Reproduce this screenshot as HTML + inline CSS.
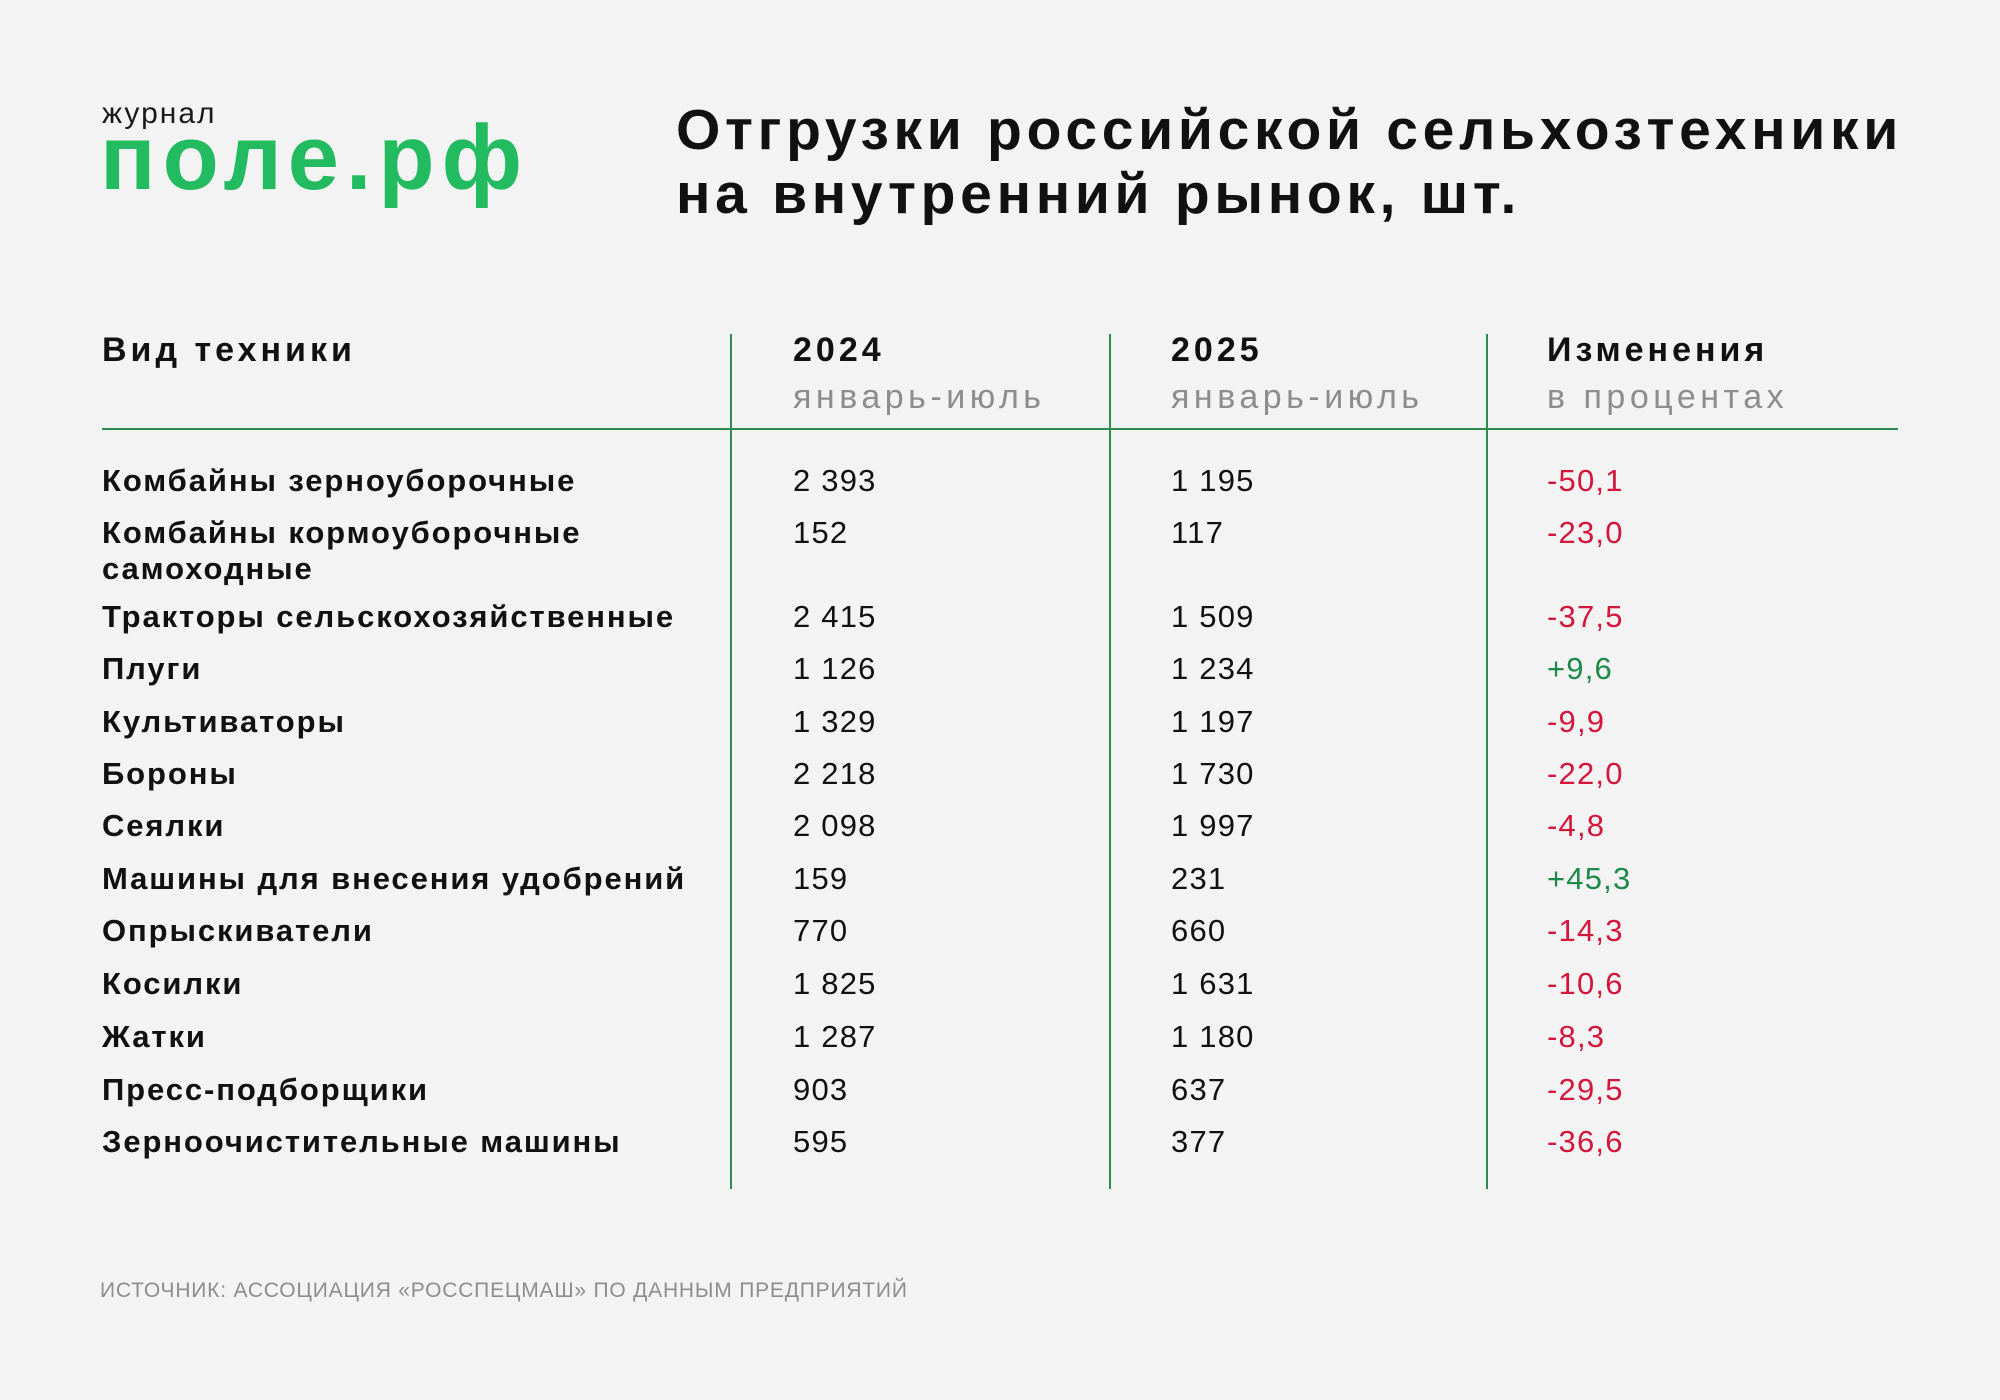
<!DOCTYPE html>
<html><head><meta charset="utf-8"><style>
body{margin:0;width:2000px;height:1400px;background:#f3f3f3;position:relative;overflow:hidden;font-family:"Liberation Sans","DejaVu Sans",sans-serif;color:#111}
.a{position:absolute;white-space:nowrap}
.b{font-weight:bold;letter-spacing:1.9px}
.r{font-size:31px;line-height:36px}
.n{letter-spacing:1.2px}
.g{color:#1e8a4a}.red{color:#d4163c}
.gray{color:#8d8d8d}
.h{font-size:34px;font-weight:bold;letter-spacing:4px}
.s{font-size:34px;letter-spacing:4.5px}
.vl{position:absolute;top:334px;height:855px;width:2px;background:#2e8b4f}
</style></head><body>
<div class="a" style="left:102px;top:97px;font-size:30px;color:#1a1a1a;letter-spacing:2px">журнал</div>
<div class="a" style="left:100px;top:108px;font-size:92px;line-height:100px;font-weight:bold;color:#22bb5f;letter-spacing:7px">поле.рф</div>
<div class="a" style="left:676px;top:98px;font-size:57px;line-height:64px;font-weight:bold;letter-spacing:4.7px">Отгрузки российской сельхозтехники<br>на внутренний рынок, шт.</div>

<div class="a h" style="left:102px;top:331px">Вид техники</div>
<div class="a h" style="left:793px;top:331px">2024</div>
<div class="a h" style="left:1171px;top:331px">2025</div>
<div class="a h" style="left:1547px;top:331px">Изменения</div>
<div class="a gray s" style="left:793px;top:378px">январь-июль</div>
<div class="a gray s" style="left:1171px;top:378px">январь-июль</div>
<div class="a gray s" style="left:1547px;top:378px">в процентах</div>
<div style="position:absolute;left:102px;top:428px;width:1796px;height:2px;background:#2e8b4f"></div>
<div class="vl" style="left:730px"></div>
<div class="vl" style="left:1109px"></div>
<div class="vl" style="left:1486px"></div>

<div class="a b r" style="left:102px;top:463px">Комбайны зерноуборочные</div>
<div class="a b r" style="left:102px;top:515px">Комбайны кормоуборочные<br>самоходные</div>
<div class="a b r" style="left:102px;top:599px">Тракторы сельскохозяйственные</div>
<div class="a b r" style="left:102px;top:651px">Плуги</div>
<div class="a b r" style="left:102px;top:704px">Культиваторы</div>
<div class="a b r" style="left:102px;top:756px">Бороны</div>
<div class="a b r" style="left:102px;top:808px">Сеялки</div>
<div class="a b r" style="left:102px;top:861px">Машины для внесения удобрений</div>
<div class="a b r" style="left:102px;top:913px">Опрыскиватели</div>
<div class="a b r" style="left:102px;top:966px">Косилки</div>
<div class="a b r" style="left:102px;top:1019px">Жатки</div>
<div class="a b r" style="left:102px;top:1072px">Пресс-подборщики</div>
<div class="a b r" style="left:102px;top:1124px">Зерноочистительные машины</div>

<div class="a r n" style="left:793px;top:463px">2 393</div><div class="a r n" style="left:1171px;top:463px">1 195</div><div class="a r n red" style="left:1547px;top:463px">-50,1</div>
<div class="a r n" style="left:793px;top:515px">152</div><div class="a r n" style="left:1171px;top:515px">117</div><div class="a r n red" style="left:1547px;top:515px">-23,0</div>
<div class="a r n" style="left:793px;top:599px">2 415</div><div class="a r n" style="left:1171px;top:599px">1 509</div><div class="a r n red" style="left:1547px;top:599px">-37,5</div>
<div class="a r n" style="left:793px;top:651px">1 126</div><div class="a r n" style="left:1171px;top:651px">1 234</div><div class="a r n g" style="left:1547px;top:651px">+9,6</div>
<div class="a r n" style="left:793px;top:704px">1 329</div><div class="a r n" style="left:1171px;top:704px">1 197</div><div class="a r n red" style="left:1547px;top:704px">-9,9</div>
<div class="a r n" style="left:793px;top:756px">2 218</div><div class="a r n" style="left:1171px;top:756px">1 730</div><div class="a r n red" style="left:1547px;top:756px">-22,0</div>
<div class="a r n" style="left:793px;top:808px">2 098</div><div class="a r n" style="left:1171px;top:808px">1 997</div><div class="a r n red" style="left:1547px;top:808px">-4,8</div>
<div class="a r n" style="left:793px;top:861px">159</div><div class="a r n" style="left:1171px;top:861px">231</div><div class="a r n g" style="left:1547px;top:861px">+45,3</div>
<div class="a r n" style="left:793px;top:913px">770</div><div class="a r n" style="left:1171px;top:913px">660</div><div class="a r n red" style="left:1547px;top:913px">-14,3</div>
<div class="a r n" style="left:793px;top:966px">1 825</div><div class="a r n" style="left:1171px;top:966px">1 631</div><div class="a r n red" style="left:1547px;top:966px">-10,6</div>
<div class="a r n" style="left:793px;top:1019px">1 287</div><div class="a r n" style="left:1171px;top:1019px">1 180</div><div class="a r n red" style="left:1547px;top:1019px">-8,3</div>
<div class="a r n" style="left:793px;top:1072px">903</div><div class="a r n" style="left:1171px;top:1072px">637</div><div class="a r n red" style="left:1547px;top:1072px">-29,5</div>
<div class="a r n" style="left:793px;top:1124px">595</div><div class="a r n" style="left:1171px;top:1124px">377</div><div class="a r n red" style="left:1547px;top:1124px">-36,6</div>

<div class="a gray" style="left:100px;top:1279px;font-size:21px;letter-spacing:0.8px">ИСТОЧНИК: АССОЦИАЦИЯ «РОССПЕЦМАШ» ПО ДАННЫМ ПРЕДПРИЯТИЙ</div>
</body></html>
